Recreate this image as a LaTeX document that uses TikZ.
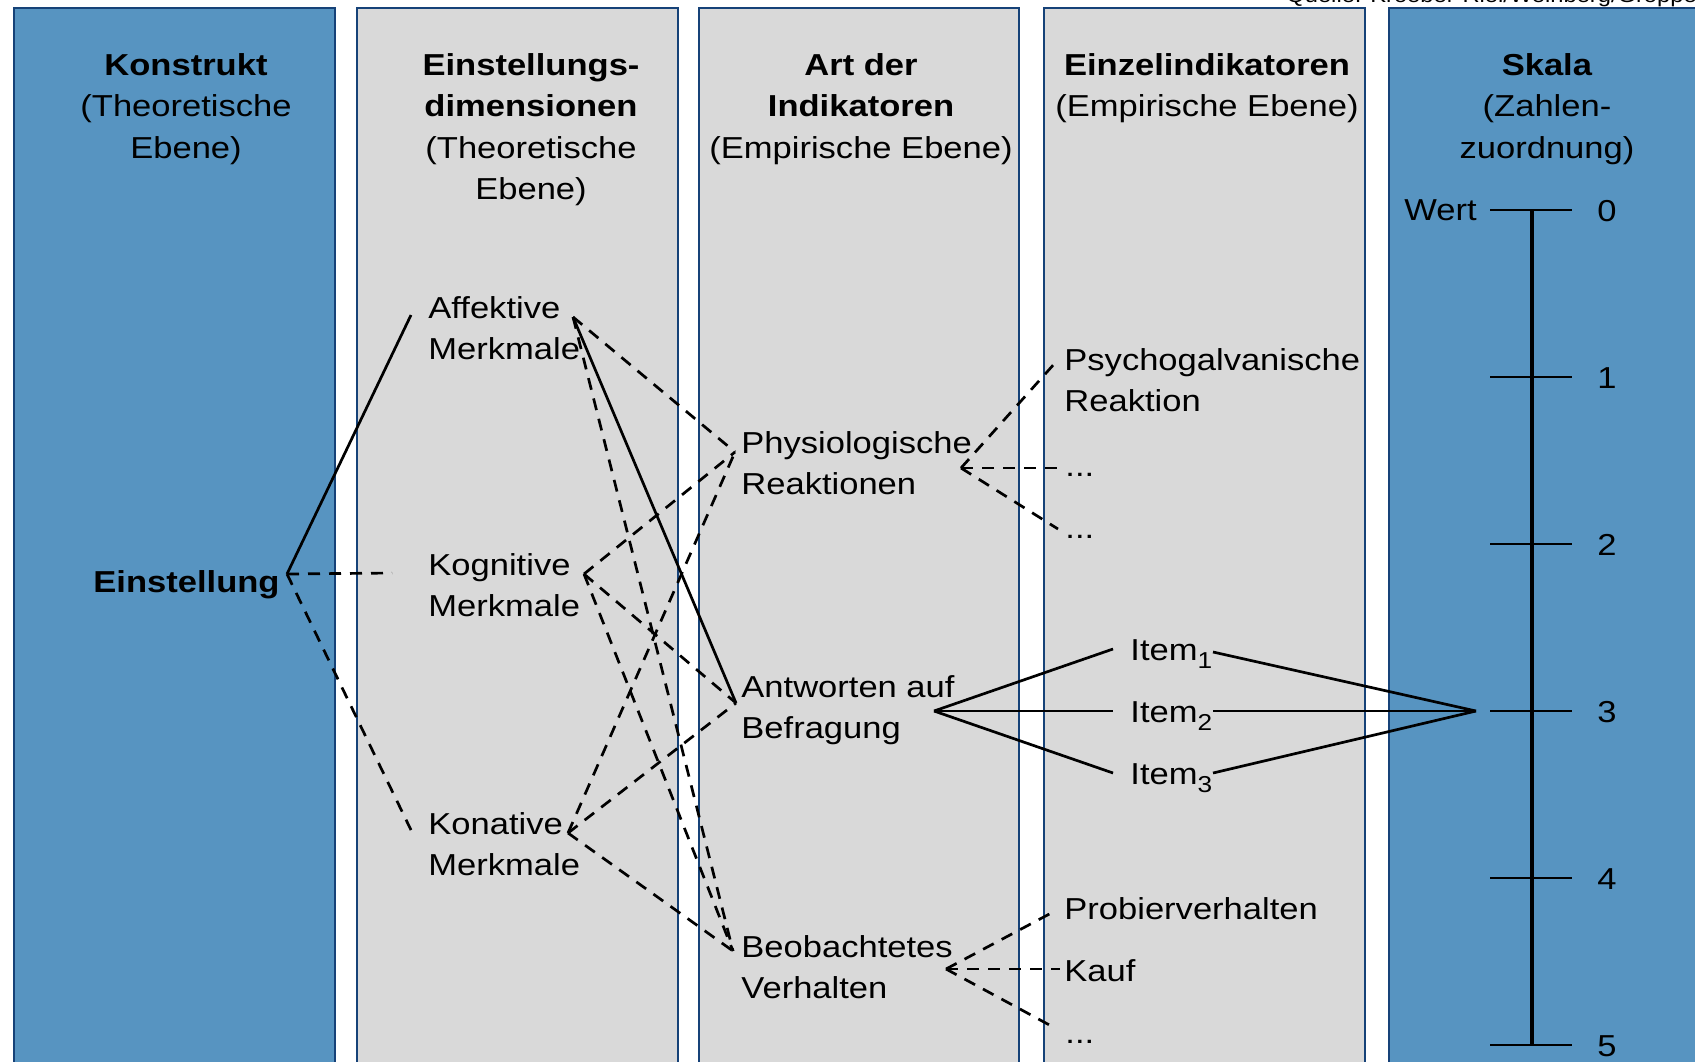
\documentclass[tikz,border=0pt]{standalone}
\usepackage{fontspec}
\setmainfont{Liberation Sans}[FakeStretch=1.14]
\usetikzlibrary{calc}
\definecolor{colblue}{RGB}{87,148,193}
\definecolor{colgrey}{RGB}{217,217,217}
\definecolor{colframe}{RGB}{22,66,120}
\newcommand{\lblfont}{\fontsize{15.15}{20.75}\selectfont}
\newcommand{\twolines}[2]{\begin{tabular}[t]{@{}l@{}}#1\\#2\end{tabular}}
\newcommand{\headlines}[1]{\begin{tabular}[t]{@{}c@{}}#1\end{tabular}}
\newcommand{\itemsub}[1]{\raisebox{-4pt}{\fontsize{11.5}{12}\selectfont#1}}
\begin{document}
\begin{tikzpicture}[x=0.5pt,y=-0.5pt,
  column/.style={draw=colframe,line width=1.4pt},
  lbl/.style={inner sep=0pt,font=\lblfont,anchor=base west},
  head/.style={inner sep=0pt,font=\lblfont,anchor=base},
  num/.style={inner sep=0pt,font=\lblfont,anchor=west},
  link/.style={line width=1.35pt},
  dlink/.style={line width=1.35pt,dash pattern=on 6pt off 4.5pt},
  axis/.style={line width=1.7pt}]
\useasboundingbox (0,0) rectangle (1695,1061);
\clip (0,0) rectangle (1695,1061);

% five columns
\path[column,fill=colblue] (14,8) rectangle (335,1080);
\path[column,fill=colgrey] (357,8) rectangle (678,1080);
\path[column,fill=colgrey] (699,8) rectangle (1019,1080);
\path[column,fill=colgrey] (1044,8) rectangle (1365,1080);
\path[column,fill=colblue] (1389,8) rectangle (1730,1080);

% source line
\node[inner sep=0pt,anchor=base west,font=\fontsize{10.4}{12}\selectfont] (src) at (1286,2.5) {Quelle: Kroeber-Riel/Weinberg/Gröppel};

% column headings
\node[head] (h1) at (186,75) {\headlines{\textbf{Konstrukt}\\(Theoretische\\Ebene)}};
\node[head] (h2) at (531,75) {\headlines{\textbf{Einstellungs-}\\\textbf{dimensionen}\\(Theoretische\\Ebene)}};
\node[head] (h3) at (861,75) {\headlines{\textbf{Art der}\\\textbf{Indikatoren}\\(Empirische Ebene)}};
\node[head] (h4) at (1207,75) {\headlines{\textbf{Einzelindikatoren}\\(Empirische Ebene)}};
\node[head] (h5) at (1547,75) {\headlines{\textbf{Skala}\\(Zahlen-\\zuordnung)}};

% labels
\node[lbl,font=\lblfont\bfseries] (einst) at (93,592) {Einstellung};
\node[lbl] (aff) at (428,318) {\twolines{Affektive}{Merkmale}};
\node[lbl] (kog) at (428,575) {\twolines{Kognitive}{Merkmale}};
\node[lbl] (kon) at (428,834) {\twolines{Konative}{Merkmale}};
\node[lbl] (phy) at (741,453) {\twolines{Physiologische}{Reaktionen}};
\node[lbl] (ant) at (741,697) {\twolines{Antworten auf}{Befragung}};
\node[lbl] (beo) at (741,957) {\twolines{Beobachtetes}{Verhalten}};
\node[lbl] (psy) at (1064,370) {\twolines{Psychogalvanische}{Reaktion}};
\node[lbl] (dota) at (1065,476) {...};
\node[lbl] (dotb) at (1065,538) {...};
\node[lbl] (item1) at (1130,660) {Item\itemsub{1}};
\node[lbl] (item2) at (1130,722) {Item\itemsub{2}};
\node[lbl] (item3) at (1130,784) {Item\itemsub{3}};
\node[lbl] (prob) at (1064,919) {Probierverhalten};
\node[lbl] (kauf) at (1064,981) {Kauf};
\node[lbl] (dotc) at (1065,1043) {...};

% connector end points
\coordinate (einR) at (287,574);
\coordinate (affIn) at (411,315);
\coordinate (kogIn) at (392,573);
\coordinate (konIn) at (411,830);
\coordinate (affOut) at (573,317);
\coordinate (kogOut) at (584,574);
\coordinate (konOut) at (568,833);
\coordinate (phyIn) at (735,452);
\coordinate (antIn) at (736,703);
\coordinate (beoIn) at (733,951);
\coordinate (phyOut) at (961,468);
\coordinate (antOut) at (934,711);
\coordinate (beoOut) at (946,969);
\coordinate (psyIn) at (1055,363);
\coordinate (dotaIn) at (1058,468);
\coordinate (dotbIn) at (1058,529);
\coordinate (i1In) at (1113,649);
\coordinate (i2In) at (1113,711);
\coordinate (i3In) at (1113,773);
\coordinate (i1Out) at (1213,652);
\coordinate (i2Out) at (1213,711);
\coordinate (i3Out) at (1213,773);
\coordinate (scaleIn) at (1476,711);
\coordinate (probIn) at (1055,911);
\coordinate (kaufIn) at (1060,969);
\coordinate (dotcIn) at (1055,1028);

% construct to dimensions
\draw[link] (einR) -- (affIn);
\draw[dlink] (einR) -- (kogIn);
\draw[dlink] (einR) -- (konIn);

% dimensions to kinds of indicators
\draw[dlink] (affOut) -- (phyIn);
\draw[link] (affOut) -- (antIn);
\draw[dlink] (affOut) -- (beoIn);
\draw[dlink] (kogOut) -- (phyIn);
\draw[dlink] (kogOut) -- (antIn);
\draw[dlink] (kogOut) -- (beoIn);
\draw[dlink] (konOut) -- (phyIn);
\draw[dlink] (konOut) -- (antIn);
\draw[dlink] (konOut) -- (beoIn);

% kinds of indicators to single indicators
\draw[dlink] (phyOut) -- (psyIn);
\draw[dlink] (phyOut) -- (dotaIn);
\draw[dlink] (phyOut) -- (dotbIn);
\draw[link] (antOut) -- (i1In);
\draw[link] (antOut) -- (i2In);
\draw[link] (antOut) -- (i3In);
\draw[dlink] (beoOut) -- (probIn);
\draw[dlink] (beoOut) -- (kaufIn);
\draw[dlink] (beoOut) -- (dotcIn);

% items to the scale value
\draw[link] (i1Out) -- (scaleIn);
\draw[link] (i2Out) -- (scaleIn);
\draw[link] (i3Out) -- (scaleIn);

% scale
\node[inner sep=0pt,font=\lblfont,anchor=east] (wert) at (1477,210) {Wert};
\foreach \v in {0,...,5} {
  \coordinate (s\v) at (1532,{210+167*\v});
  \draw[link] (1490,{210+167*\v}) -- (1572,{210+167*\v});
  \node[num] (n\v) at (1597,{211+167*\v}) {\v};
}
\draw[axis] (s0) -- (s5);
\end{tikzpicture}
\end{document}
